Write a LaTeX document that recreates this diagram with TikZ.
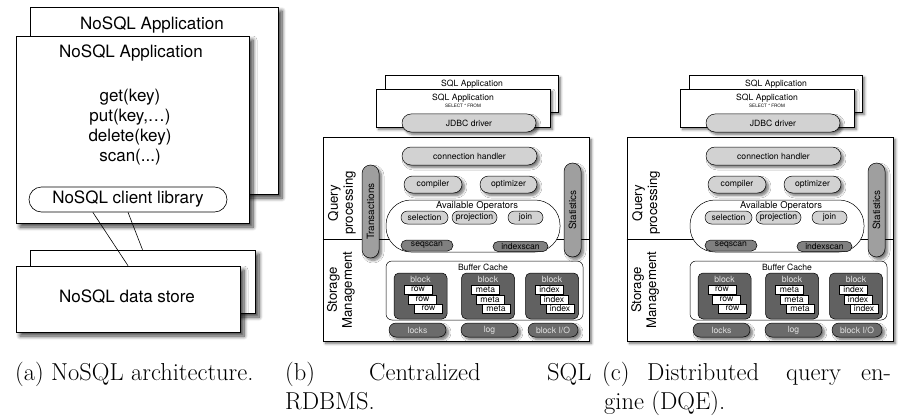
\documentclass[tikz,border=0pt]{standalone}
\usepackage{fontspec}
\newfontfamily\helv{TeX Gyre Heros}
\usetikzlibrary{positioning, shapes.misc, shadows.blur}
\tikzset{
  box/.style={draw, fill=white, line width=0.6pt, inner sep=0pt},
  soft/.style={blur shadow={shadow xshift=2.5pt, shadow yshift=-2.5pt, shadow blur radius=2.5pt, shadow blur steps=6, shadow opacity=55}},
  deep/.style={blur shadow={shadow xshift=4pt, shadow yshift=-4pt, shadow blur radius=4pt, shadow blur steps=8, shadow opacity=75}},
  big/.style={font=\helv\fontsize{17}{20}\selectfont, inner sep=0pt},
  small/.style={font=\helv\fontsize{8.6}{10}\selectfont, inner sep=0pt},
  pill/.style={rounded rectangle, draw, line width=0.5pt, fill=gray!35, inner sep=0pt, small},
  darkpill/.style={pill, fill=black!50},
  iopill/.style={pill, fill=black!58, text=white!88!black},
  sidepill/.style={pill, rotate=90, fill=gray!75, font=\helv\fontsize{10}{12}\selectfont},
  blockbox/.style={draw, line width=0.5pt, rounded corners=5pt, fill=black!62, inner sep=0pt},
  itembox/.style={draw, line width=0.5pt, fill=white, minimum width=28, minimum height=9.5, small},
  region/.style={draw, line width=0.5pt, fill=white, inner sep=0pt},
  layer/.style={rotate=90, align=center, font=\helv\fontsize{13.2}{15}\selectfont, inner sep=0pt},
  subcap/.style={font=\fontsize{24.5}{29.4}\selectfont, inner sep=0pt, anchor=base west},
}

\begin{document}
\begin{tikzpicture}[x=1pt, y=-1pt]
  \useasboundingbox (0,0) rectangle (901,417);

  % (a) key-value store
  \node[box, deep, minimum width=248, minimum height=187] (app1) at (154,100.5) {};
  \node[big] (app1t) at (152,25) {NoSQL Application};
  \node[box, deep, minimum width=233, minimum height=187] (app2) at (132.5,129.5) {};
  \node[big] (app2t) at (131,53) {NoSQL Application};
  \node[big, align=center] (api) at (130,127) {get(key)\\put(key,\dots)\\delete(key)\\scan(...)};
  \node[rounded rectangle, draw, line width=0.6pt, fill=white, minimum width=198, minimum height=25, big] (lib) at (128,199.5) {NoSQL client library};
  \node[box, deep, minimum width=225, minimum height=63] (ds2) at (142.5,281.5) {};
  \node[box, deep, minimum width=224, minimum height=66] (ds1) at (128,299) {};
  \node[big] (dst) at (127,297) {NoSQL data store};
  \draw[line width=0.6pt] (lib.south) -- (ds2.north);
  \draw[line width=0.6pt] (lib.200.7) -- (ds1.north);

  % (b) and (c) share the same engine layout
  \foreach \pn/\dx in {b/0, c/304}{
  \begin{scope}[xshift=\dx]
    \node[box, soft, minimum width=173, minimum height=37] (sqla\pn) at (471.5,93.5) {};
    \node[small] at (472,84) {SQL Application};
    \node[box, soft, minimum width=174, minimum height=38] (sqlb\pn) at (463,108) {};
    \node[small] at (463,98) {SQL Application};
    \node[inner sep=0pt, font=\helv\fontsize{4.6}{5}\selectfont] at (463,105.5) {SELECT * FROM};
    \node[pill, soft, minimum width=134, minimum height=18] (jdbc\pn) at (469,123) {JDBC driver};

    \node[box, soft, minimum width=266, minimum height=204] (eng\pn) at (456,239) {};
    \draw[line width=0.5pt] (eng\pn.west) -- (eng\pn.east);
    \node[layer] (qp\pn) at (342,203) {Query\\processing};
    \node[layer] (sm\pn) at (341,290) {Storage\\Management};

    \node[pill, soft, minimum width=135, minimum height=18] (conn\pn) at (469.5,156) {connection handler};
    \node[pill, soft, minimum width=58, minimum height=17] (comp\pn) at (433,184.5) {compiler};
    \node[pill, soft, minimum width=57, minimum height=17] (opt\pn) at (508.5,184.5) {optimizer};

    \node[region, rounded corners=25pt, minimum width=174, minimum height=52] (ops\pn) at (473,226) {};
    \node[font=\helv\fontsize{9.4}{10}\selectfont, inner sep=0pt] at (477,206) {Available Operators};
    \node[pill, minimum width=47, minimum height=13] (sel\pn) at (424.5,217.5) {selection};
    \node[pill, minimum width=45, minimum height=13] (proj\pn) at (474.5,217.5) {projection};
    \node[pill, minimum width=35, minimum height=13] (join\pn) at (525.5,217.5) {join};
    \node[darkpill, minimum width=52, minimum height=11] (seq\pn) at (427,245.5) {seqscan};
    \node[darkpill, minimum width=55, minimum height=10] (idx\pn) at (520.5,246.5) {indexscan};

    \node[region, rounded corners=6pt, minimum width=197, minimum height=59] (cache\pn) at (484.5,290.5) {};
    \node[small] at (483,267) {Buffer Cache};
    \foreach \k/\bx/\item in {1/420.5/row, 2/488/meta, 3/552/index}{
      \node[blockbox, minimum width=53, minimum height=46] (blk\k\pn) at (\bx,296) {};
      \node[small, text=white!90!black] at (\bx,279) {block};
      \node[itembox] (it\k a\pn) at (\bx-2.5,289.5) {\item};
      \node[itembox] (it\k b\pn) at (\bx+2,299.5) {\item};
      \node[itembox] (it\k c\pn) at (\bx+8,308.5) {\item};
    }
    \node[iopill, soft, minimum width=57, minimum height=14] (locks\pn) at (417.5,330) {locks};
    \node[iopill, soft, minimum width=57, minimum height=14] (log\pn) at (489.5,330) {log};
    \node[iopill, soft, minimum width=50, minimum height=14] (bio\pn) at (553,330) {block I/O};

    \node[sidepill, soft, minimum width=94, minimum height=17] (stat\pn) at (572.5,210) {Statistics};
  \end{scope}
  }
  % only the centralized engine has transactions
  \node[sidepill, soft, minimum width=93, minimum height=17] (trans) at (370.5,211.5) {Transactions};

  % sub-captions, justified by hand
  \node[subcap] (capa) at (15,380) {(a) NoSQL architecture.};
  \node[subcap] (capb) at (285,380) {(b)};
  \node[subcap] (capb2) at (369,380) {Centralized};
  \node[subcap] (capb3) at (547,380) {SQL};
  \node[subcap] (capb4) at (285,409) {RDBMS.};
  \node[subcap] (capc) at (602,380) {(c)};
  \node[subcap] (capc2) at (647,380) {Distributed};
  \node[subcap] (capc3) at (786,380) {query};
  \node[subcap] (capc4) at (861,380) {en-};
  \node[subcap] (capc5) at (604,409) {gine (DQE).};
\end{tikzpicture}
\end{document}
